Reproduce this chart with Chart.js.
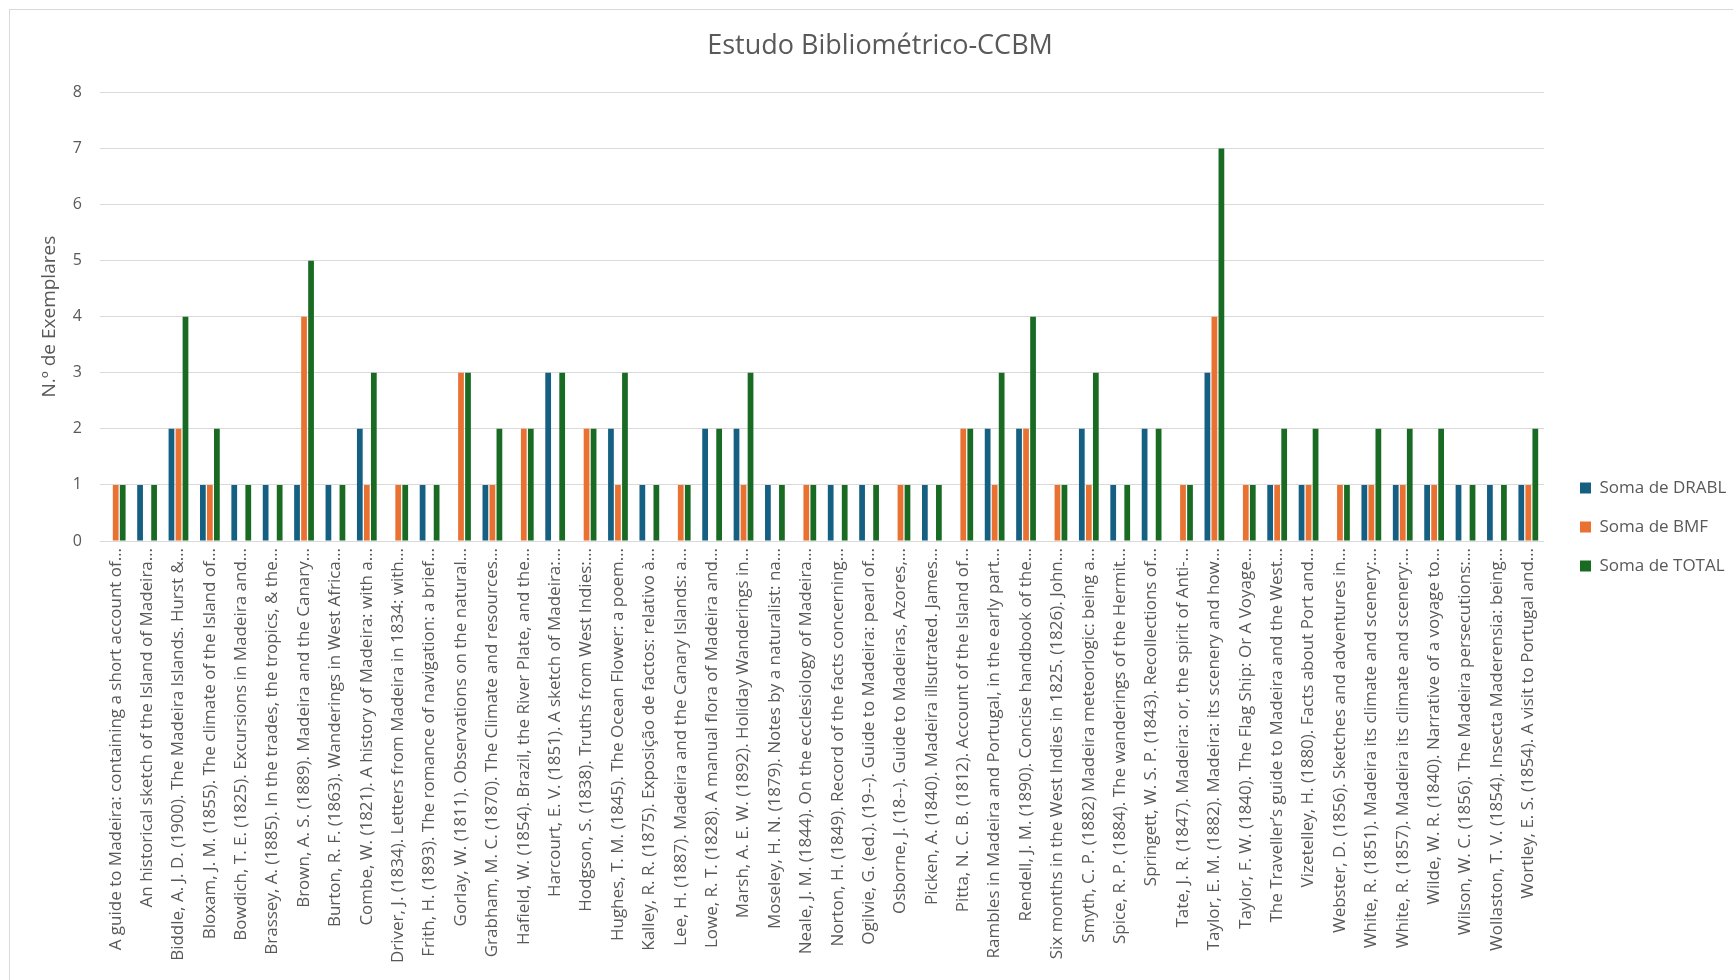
<!DOCTYPE html>
<html>
<head>
<meta charset="utf-8">
<script src="https://cdn.jsdelivr.net/npm/chart.js@4.4.1/dist/chart.umd.min.js"></script>
<style>
  body { margin: 0; background: #fff; }
  #wrap { position: relative; width: 1733px; height: 980px; overflow: hidden; }
  #frame { position: absolute; left: 9px; top: 9px; width: 1780px; height: 1000px;
           border: 1px solid #d9d9d9; box-sizing: border-box; pointer-events: none; }
</style>
</head>
<body>
<div id="wrap">
  <canvas id="chart" width="1733" height="980"></canvas>
  <div id="frame"></div>
</div>
<script>
const titles = [
  'A guide to Madeira: containing a short account of…',
  'An historical sketch of the Island of Madeira…',
  'Biddle, A. J. D. (1900). The Madeira Islands. Hurst &…',
  'Bloxam, J. M. (1855). The climate of the Island of…',
  'Bowdich, T. E. (1825). Excursions in Madeira and…',
  'Brassey, A. (1885). In the trades, the tropics, & the…',
  'Brown, A. S. (1889). Madeira and the Canary…',
  'Burton, R. F. (1863). Wanderings in West Africa…',
  'Combe, W. (1821). A history of Madeira: with a…',
  'Driver, J. (1834). Letters from Madeira in 1834: with…',
  'Frith, H. (1893). The romance of navigation: a brief…',
  'Gorlay, W. (1811). Observations on the natural…',
  'Grabham, M. C. (1870). The Climate and resources…',
  'Hafield, W. (1854). Brazil, the River Plate, and the…',
  'Harcourt, E. V. (1851). A sketch of Madeira:…',
  'Hodgson, S. (1838). Truths from West Indies:…',
  'Hughes, T. M. (1845). The Ocean Flower: a poem…',
  'Kalley, R. R. (1875). Exposição de factos: relativo à…',
  'Lee, H. (1887). Madeira and the Canary Islands: a…',
  'Lowe, R. T. (1828). A manual flora of Madeira and…',
  'Marsh, A. E. W. (1892). Holiday Wanderings in…',
  'Moseley, H. N. (1879). Notes by a naturalist: na…',
  'Neale, J. M. (1844). On the ecclesiology of Madeira…',
  'Norton, H. (1849). Record of the facts concerning…',
  'Ogilvie, G. (ed.). (19--). Guide to Madeira: pearl of…',
  'Osborne, J. (18--). Guide to Madeiras, Azores,…',
  'Picken, A. (1840). Madeira illsutrated. James…',
  'Pitta, N. C. B. (1812). Account of the Island of…',
  'Rambles in Madeira and Portugal, in the early part…',
  'Rendell, J. M. (1890). Concise handbook of the…',
  'Six months in the West Indies in 1825. (1826). John…',
  'Smyth, C. P. (1882) Madeira meteorlogic: being a…',
  'Spice, R. P. (1884). The wanderings of the Hermit…',
  'Springett, W. S. P. (1843). Recollections of…',
  'Tate, J. R. (1847). Madeira: or, the spirit of Anti-…',
  'Taylor, E. M. (1882). Madeira: its scenery and how…',
  'Taylor, F. W. (1840). The Flag Ship: Or A Voyage…',
  'The Traveller’s guide to Madeira and the West…',
  'Vizetelley, H. (1880). Facts about Port and…',
  'Webster, D. (1856). Sketches and adventures in…',
  'White, R. (1851). Madeira its climate and scenery:…',
  'White, R. (1857). Madeira its climate and scenery:…',
  'Wilde, W. R. (1840). Narrative of a voyage to…',
  'Wilson, W. C. (1856). The Madeira persecutions:…',
  'Wollaston, T. V. (1854). Insecta Maderensia: being…',
  'Wortley, E. S. (1854). A visit to Portugal and…'
];

const drabl = [0,1,2,1,1,1,1,1,2,0,1,0,1,0,3,0,2,1,0,2,2,1,0,1,1,0,1,0,2,2,0,2,1,2,0,3,0,1,1,0,1,1,1,1,1,1];
const bmf   = [1,0,2,1,0,0,4,0,1,1,0,3,1,2,0,2,1,0,1,0,1,0,1,0,0,1,0,2,1,2,1,1,0,0,1,4,1,1,1,1,1,1,1,0,0,1];
const total = [1,1,4,2,1,1,5,1,3,1,1,3,2,2,3,2,3,1,1,2,3,1,1,1,1,1,1,2,3,4,1,3,1,2,1,7,1,2,2,1,2,2,2,1,1,2];

const seriesNames = ['Soma de DRABL', 'Soma de BMF', 'Soma de TOTAL'];
const yTicks = [0,1,2,3,4,5,6,7,8];

const grey = '#595959';
const font = 'Open Sans';

// excel puts the legend in the middle of the whole plot block, not the bars,
// and centres the title on the full chart box
const placeBoxes = {
  id: 'placeBoxes',
  afterLayout(c) {
    const lg = c.legend;
    const shift = 527 - (lg.top + lg.bottom) / 2;
    lg.top += shift;
    lg.bottom += shift;
    const w = lg.right - lg.left;
    lg.left = 1580 - lg.options.labels.padding;
    lg.right = lg.left + w;

    const tb = c.titleBlock;
    const d = 880 - (tb.left + tb.right) / 2;
    tb.left += d;
    tb.right += d;
  }
};

const chart = new Chart(document.querySelector('#chart'), {
  type: 'bar',
  data: {
    labels: titles,
    datasets: [
      { label: seriesNames[0], data: drabl, backgroundColor: '#156082' },
      { label: seriesNames[1], data: bmf, backgroundColor: '#E97132' },
      { label: seriesNames[2], data: total, backgroundColor: '#196B24' }
    ]
  },
  options: {
    responsive: false,
    animation: false,
    devicePixelRatio: 1,
    categoryPercentage: 0.67,
    barPercentage: 0.82,
    layout: { padding: { top: 30, left: 0, right: 30, bottom: 9 } },
    plugins: {
      title: {
        display: true,
        text: 'Estudo Bibliométrico-CCBM',
        color: grey,
        font: { family: font, size: 27, weight: 'normal' },
        padding: { top: 0, bottom: 30 }
      },
      legend: {
        position: 'right',
        labels: {
          color: grey,
          font: { family: font, size: 17 },
          boxWidth: 11,
          boxHeight: 11,
          padding: 22
        }
      },
      tooltip: { enabled: false }
    },
    scales: {
      x: {
        grid: { display: false, drawTicks: false },
        border: { display: false },
        ticks: {
          autoSkip: false,
          minRotation: 90,
          maxRotation: 90,
          padding: 7,
          color: grey,
          font: { family: font, size: 17 }
        },
        afterFit: s => { s.height = 430; }
      },
      y: {
        min: 0,
        max: 8,
        afterBuildTicks: s => { s.ticks = yTicks.map(v => ({ value: v })); },
        grid: { color: '#d9d9d9', lineWidth: 1, drawTicks: false },
        border: { display: false },
        ticks: {
          padding: 18,
          color: grey,
          font: { family: font, size: 16 }
        },
        title: {
          display: true,
          text: 'N.º de Exemplares',
          color: grey,
          font: { family: font, size: 19 },
          padding: { top: 38, bottom: 0 }
        },
        afterFit: s => { s.width = 100; }
      }
    }
  },
  plugins: [placeBoxes]
});

// nudge right padding so the plot ends where excel's does
const over = chart.chartArea.right - 1544;
if (Math.abs(over) > 0.5) {
  chart.options.layout.padding.right += over;
  chart.update();
}
</script>
</body>
</html>
